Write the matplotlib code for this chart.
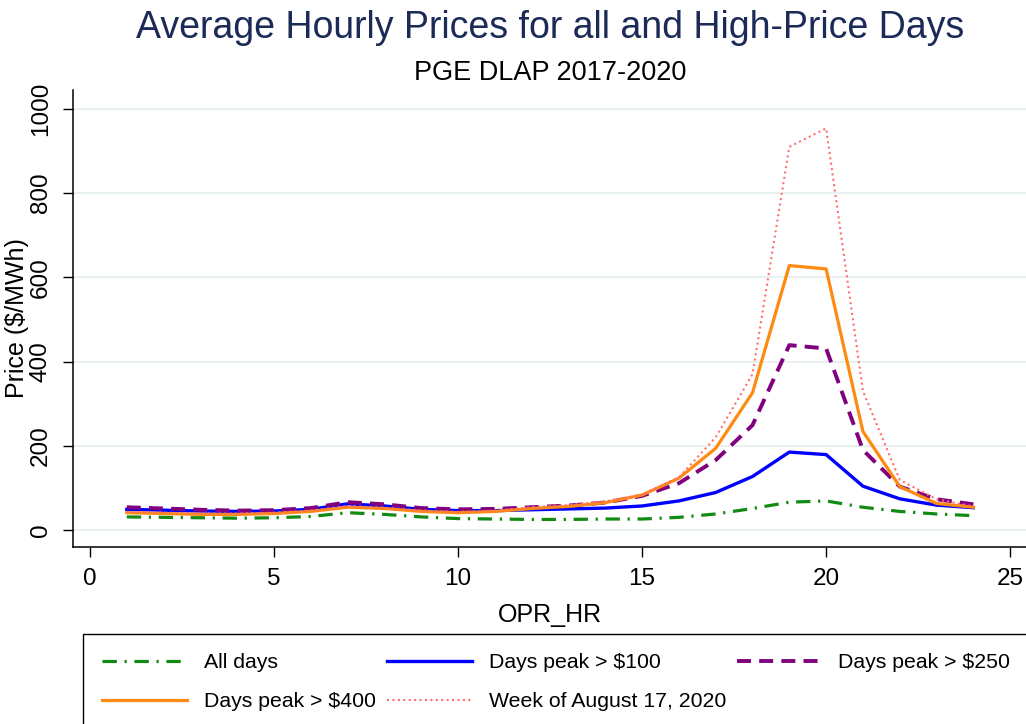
import matplotlib
matplotlib.use("Agg")
import matplotlib.pyplot as plt

plt.rcParams['font.family'] = ['Liberation Sans', 'DejaVu Sans']

hours = list(range(1, 25))

all_days = [31, 30, 29, 28, 29, 32, 41, 37, 31, 27, 26, 25,
            25, 26, 26, 30, 38, 51, 66, 69, 54, 44, 38, 34]
peak_100 = [49, 47, 45, 44, 45, 49, 62, 57, 49, 46, 46, 48,
            50, 52, 57, 69, 89, 127, 185, 179, 104, 74, 59, 53]
peak_250 = [54, 51, 48, 46, 47, 52, 66, 61, 52, 49, 50, 54,
            58, 65, 81, 111, 166, 249, 439, 431, 190, 103, 73, 61]
peak_400 = [41, 39, 37, 37, 39, 44, 54, 51, 44, 41, 44, 51,
            56, 65, 83, 123, 194, 326, 628, 620, 234, 103, 63, 54]
aug_2020 = [43, 41, 39, 39, 41, 46, 57, 53, 46, 43, 46, 54,
            59, 68, 84, 125, 220, 370, 910, 954, 330, 119, 73, 56]

y_ticks = [0, 200, 400, 600, 800, 1000]
x_ticks = [0, 5, 10, 15, 20, 25]

fig = plt.figure(figsize=(10.26, 7.24), dpi=100)
ax = fig.add_axes([0.0711, 0.2445, 0.9289, 0.6312])

l_all, = ax.plot(hours, all_days, color='#138a13', lw=2.3,
                 dashes=(4.5, 2.4, 0.7, 2.4), label='All days')
l_100, = ax.plot(hours, peak_100, color='#0000ff', lw=2.4,
                 label='Days peak > $100')
l_250, = ax.plot(hours, peak_250, color='#800080', lw=2.8,
                 dashes=(3.6, 2.1), label='Days peak > $250')
l_400, = ax.plot(hours, peak_400, color='#ff8a12', lw=2.3,
                 label='Days peak > $400')
l_aug, = ax.plot(hours, aug_2020, color='#ff6f6f', lw=1.5,
                 dashes=(1, 1.6), label='Week of August 17, 2020')

ax.set_xlim(-0.462, 25.43)
ax.set_ylim(-40.4, 1045)
ax.set_xticks(x_ticks)
ax.set_yticks(y_ticks)
ax.tick_params(axis='both', labelsize=17.5, length=7.2, width=1.0, pad=8)
for lab in ax.get_yticklabels():
    lab.set_rotation(90)
    lab.set_va('center')

ax.grid(axis='y', color='#e6eff1', lw=1.3)
ax.set_axisbelow(True)
for side in ['top', 'right']:
    ax.spines[side].set_visible(False)
for side in ['left', 'bottom']:
    ax.spines[side].set_linewidth(1.1)

ax.set_xlabel('OPR_HR', fontsize=18, labelpad=9)
ax.set_ylabel('Price ($/MWh)', fontsize=18)
# sits just left of the rotated tick labels
ax.yaxis.set_label_coords(-0.046, 0.5)

fig.text(0.536, 1 - 38 / 724, 'Average Hourly Prices for all and High-Price Days',
         ha='center', va='baseline', fontsize=27, color='#1b2a56')
fig.text(0.536, 1 - 80 / 724, 'PGE DLAP 2017-2020',
         ha='center', va='baseline', fontsize=19.5, color='black')

# row-wise order for a 3-column legend
handles = [l_all, l_400, l_100, l_aug, l_250]
leg = fig.legend(handles=handles, labels=[h.get_label() for h in handles],
                 ncol=3, loc='upper left', bbox_to_anchor=(83 / 1026, 1 - 634 / 724),
                 borderaxespad=0, fontsize=15.3, handlelength=4.0, handletextpad=0.8,
                 columnspacing=0.5, labelspacing=0.95, borderpad=0.9,
                 frameon=True, fancybox=False, edgecolor='black', framealpha=1)
leg.get_frame().set_linewidth(1.0)

fig.savefig('out.png', dpi=100)
